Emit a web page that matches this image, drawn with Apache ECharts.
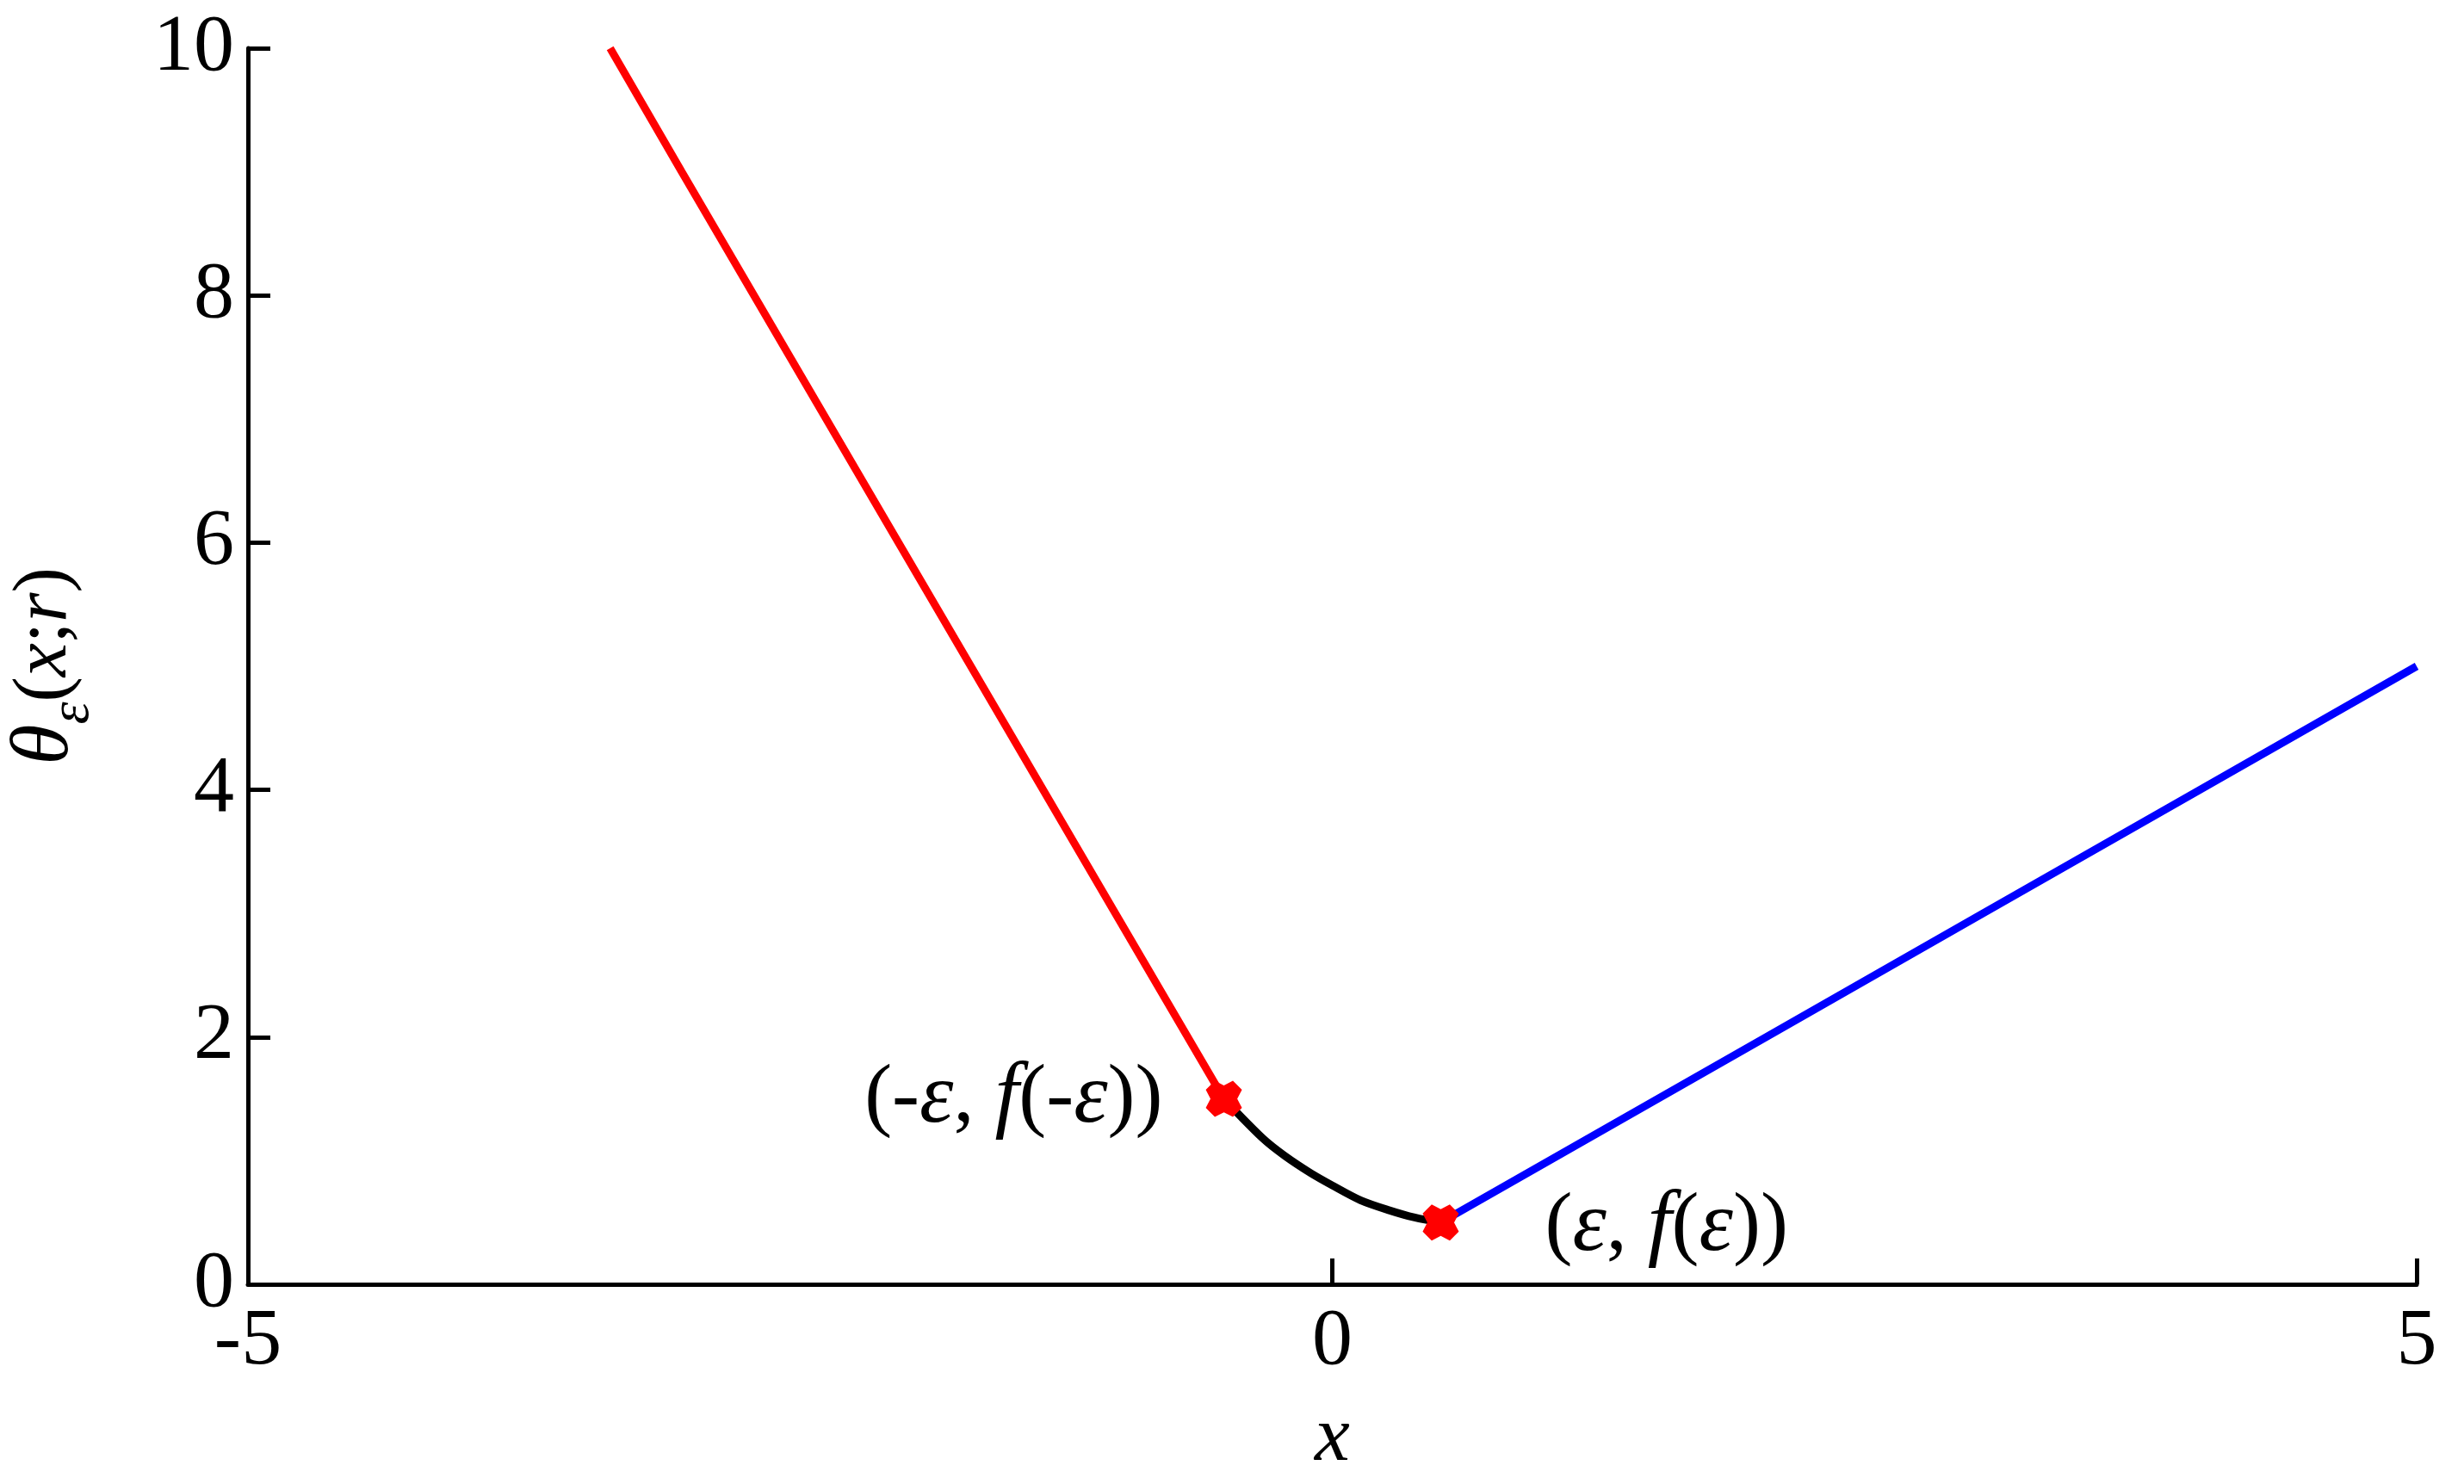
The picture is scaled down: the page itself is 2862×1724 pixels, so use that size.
<!DOCTYPE html>
<html>
<head>
<meta charset="utf-8">
<script src="https://cdn.jsdelivr.net/npm/echarts@6/dist/echarts.min.js"></script>
<style>
html,body{margin:0;padding:0;background:#fff;}
#chart{width:2862px;height:1724px;}
</style>
</head>
<body>
<div id="chart"></div>
<script>
// Data
var xTicks = [-5, 0, 5];
var yTicks = [0, 2, 4, 6, 8, 10];

var leftX = [-3.33, -3.0, -2.5, -2.0, -1.5, -1.0, -0.5];
var leftY = [10.0, 9.0, 7.5, 6.0, 4.5, 3.0, 1.5];

var midX = [-0.5, -0.32, -0.22, -0.1, 0.0, 0.13, 0.26, 0.38, 0.5];
var midY = [1.5, 1.18, 1.04, 0.9, 0.8, 0.68, 0.6, 0.54, 0.5];

var rightX = [0.5, 1.0, 2.0, 3.0, 4.0, 5.0];
var rightY = [0.5, 1.0, 2.0, 3.0, 4.0, 5.0];

var markX = [-0.5, 0.5];
var markY = [1.5, 0.5];

function pairs(xs, ys) { return xs.map(function (x, i) { return [x, ys[i]]; }); }

var serif = "'Liberation Serif', 'Times New Roman', serif";
var fatX = 'path://M25,0 L50,13 L75,0 L100,25 L87,50 L100,75 L75,100 L50,87 L25,100 L0,75 L13,50 L0,25 Z';

var chart = echarts.init(document.getElementById('chart'));
chart.setOption({
  backgroundColor: '#ffffff',
  animation: false,
  grid: { left: 288, right: 55, top: 56, bottom: 232, containLabel: false, outerBoundsMode: 'none' },
  xAxis: {
    type: 'value', min: -5, max: 5, interval: 5,
    name: 'x', nameLocation: 'middle', nameGap: 134,
    nameTextStyle: { fontFamily: serif, fontStyle: 'italic', fontSize: 92, color: '#000' },
    axisLine: { onZero: false, lineStyle: { color: '#000', width: 5 } },
    axisTick: { inside: true, length: 30, lineStyle: { color: '#000', width: 5 } },
    axisLabel: { fontFamily: serif, fontSize: 94, color: '#000', margin: 20 },
    splitLine: { show: false }
  },
  yAxis: {
    type: 'value', min: 0, max: 10, interval: 2,
    name: '{t|θ}{s|ε}{p|(}{i|x}{p|;}{i|r}{p|)}',
    nameLocation: 'middle', nameRotate: 90, nameGap: 170,
    nameTextStyle: {
      fontFamily: serif, color: '#000',
      rich: {
        t: { fontFamily: serif, fontStyle: 'italic', fontSize: 96, lineHeight: 130, verticalAlign: 'middle', color: '#000' },
        s: { fontFamily: serif, fontStyle: 'italic', fontSize: 66, lineHeight: 66, verticalAlign: 'bottom', color: '#000' },
        p: { fontFamily: serif, fontSize: 88, lineHeight: 130, verticalAlign: 'middle', color: '#000' },
        i: { fontFamily: serif, fontStyle: 'italic', fontSize: 88, lineHeight: 130, verticalAlign: 'middle', color: '#000' }
      }
    },
    axisLine: { onZero: false, lineStyle: { color: '#000', width: 5 } },
    axisTick: { inside: true, length: 26, lineStyle: { color: '#000', width: 5 } },
    axisLabel: { fontFamily: serif, fontSize: 94, color: '#000', margin: 16 },
    splitLine: { show: false }
  },
  series: [
    { type: 'line', data: pairs(leftX, leftY), showSymbol: false, lineStyle: { color: '#ff0000', width: 9 }, z: 2 },
    { type: 'line', data: pairs(midX, midY), showSymbol: false, smooth: 0.3, lineStyle: { color: '#000000', width: 9 }, z: 2 },
    { type: 'line', data: pairs(rightX, rightY), showSymbol: false, lineStyle: { color: '#0000ff', width: 9 }, z: 2 },
    {
      type: 'scatter', symbol: fatX, symbolSize: 42, z: 5,
      itemStyle: { color: '#ff0000', opacity: 1 },
      data: [
        { value: [markX[0], markY[0]],
          label: { show: true, position: 'left', distance: 50,
            formatter: '{n|(-}{e|ε}{n|, }{e|f}{n|(-}{e|ε}{n|))}' } },
        { value: [markX[1], markY[1]],
          label: { show: true, position: 'right', distance: 100, offset: [0, 6],
            formatter: '{n|(}{e|ε}{n|, }{e|f}{n|(}{e|ε}{n|))}' } }
      ],
      label: {
        color: '#000',
        rich: {
          n: { fontFamily: serif, fontSize: 96, color: '#000' },
          e: { fontFamily: serif, fontStyle: 'italic', fontSize: 100, color: '#000' }
        }
      }
    }
  ]
});
</script>
</body>
</html>
